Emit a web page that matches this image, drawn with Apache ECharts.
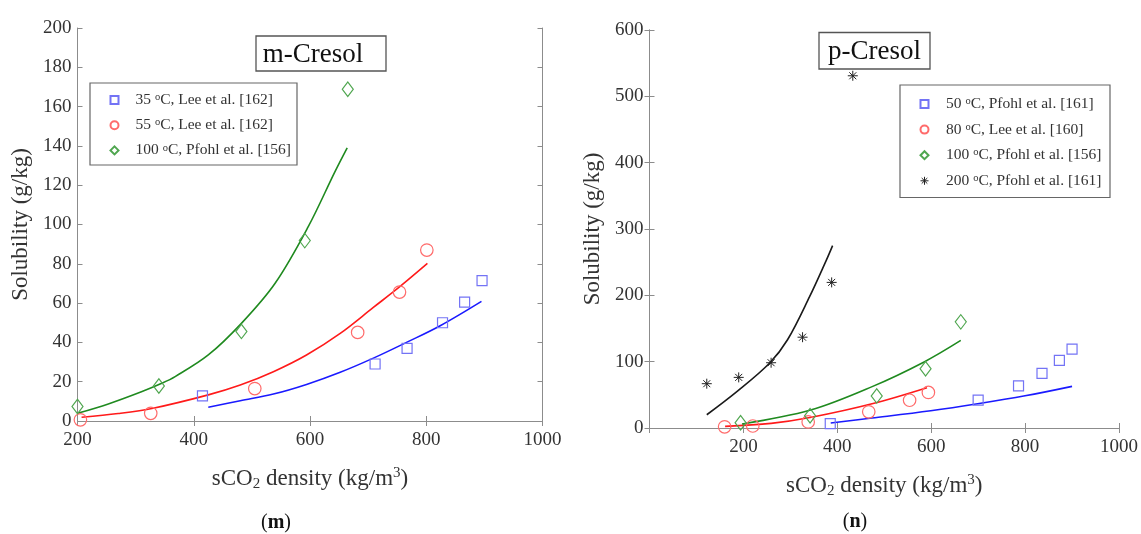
<!DOCTYPE html>
<html>
<head>
<meta charset="utf-8">
<script src="https://cdn.jsdelivr.net/npm/echarts@6/dist/echarts.min.js"></script>
<style>
  html, body { margin: 0; padding: 0; background: #fff; }
  #chart { width: 1141px; height: 534px; }
</style>
</head>
<body>
<div id="chart"></div>
<script>
// ---- m-Cresol: measured solubility (g/kg) vs sCO2 density (kg/m3) ----
const mDensity35 = [415, 712, 767, 828, 866, 896];
const mSol35 = [12.8, 29, 37, 50, 60.5, 71.4];
const mDensity55 = [205, 326, 505, 682, 754, 801];
const mSol55 = [0.6, 3.9, 16.5, 45.1, 65.6, 87];
const mDensity100 = [200, 340, 482, 591, 665];
const mSol100 = [7.4, 17.8, 45.6, 91.8, 168.8];

// m-Cresol correlation curves
const mFitX35 = [425, 480, 537, 594, 652, 709, 766, 824, 895];
const mFitY35 = [7.0, 10.3, 13.7, 18.6, 24.8, 32.0, 40.0, 48.5, 60.9];
const mFitX55 = [207, 270, 330, 425, 480, 537, 594, 652, 709, 755, 802];
const mFitY55 = [1.9, 3.8, 6.5, 13.3, 18.3, 25.1, 33.6, 44.6, 57.8, 68.5, 80.2];
const mFitX100 = [200, 253, 310, 345, 368, 425, 482, 540, 597, 643, 664];
const mFitY100 = [3.9, 8.7, 14.9, 19.2, 22.6, 33.6, 49.7, 70.1, 98.9, 126.9, 139];

// ---- p-Cresol: measured solubility ----
const pDensity50 = [385, 700, 786, 836, 873, 900];
const pSol50 = [6.5, 42, 63.5, 82.3, 102, 119];
const pDensity80 = [160, 220, 338, 467, 554, 594];
const pSol80 = [1.8, 3, 9.2, 24.4, 41.8, 53.6];
const pDensity100 = [194, 342, 484, 588, 663];
const pSol100 = [7.9, 18.4, 48.4, 89.4, 160];
const pDensity200 = [122, 190, 259, 326, 388, 433];
const pSol200 = [66.8, 76.3, 98.4, 136.9, 219.5, 531];

// p-Cresol correlation curves
const pFitX50 = [386, 474, 599, 699, 800, 900];
const pFitY50 = [7.6, 15, 26, 36.5, 48.5, 62.8];
const pFitX80 = [161, 259, 345, 474, 591];
const pFitY80 = [2.5, 7, 16.2, 36.5, 60.8];
const pFitX100 = [197, 343, 473, 586, 663];
const pFitY100 = [6, 27, 62, 100, 132];
const pFitX200 = [122, 188, 256, 294, 341, 376, 390];
const pFitY200 = [20, 56, 98, 133, 198, 252, 275];

// axis ticks
const mXTicks = { min: 200, max: 1000, interval: 200 };
const mYTicks = { min: 0, max: 200, interval: 20 };
const pXTicks = { min: 0, max: 1000, interval: 200 };
const pYTicks = { min: 0, max: 600, interval: 100 };

// legend labels
const mNames = ['35 °C, Lee et al. [162]', '55 °C, Lee et al. [162]', '100 °C, Pfohl et al. [156]'];
const pNames = ['50 °C, Pfohl et al. [161]', '80 °C, Lee et al. [160]', '100 °C, Pfohl et al. [156]', '200 °C, Pfohl et al. [161]'];

const FONT = 'Liberation Serif';
const TXT = '#333';
const FRAME = '#8c8c8c';
const BLUE_M = '#7373f5', RED_M = '#ff6b6b', GREEN_M = '#4fa64f', BLACK_M = '#222';
const BLUE_L = '#1a1aff', RED_L = '#ff1a1a', GREEN_L = '#1f8a1f', BLACK_L = '#1a1a1a';
const STAR = 'path://M5,0L5,10M0,5L10,5M1.5,1.5L8.5,8.5M1.5,8.5L8.5,1.5';

const zip = (xs, ys) => xs.map((x, i) => [x, ys[i]]);

const axisNameRich = {
  sub: { fontFamily: FONT, fontSize: 15, color: TXT, verticalAlign: 'bottom', lineHeight: 15 },
  sup: { fontFamily: FONT, fontSize: 15, color: TXT, verticalAlign: 'top', lineHeight: 15 }
};

function xAxisPair(grid, ticks, hideZero) {
  const common = {
    type: 'value', gridIndex: grid, min: ticks.min, max: ticks.max, interval: ticks.interval,
    axisLine: { show: true, lineStyle: { color: FRAME, width: 1 } },
    axisTick: { show: true, inside: true, length: 5, lineStyle: { color: FRAME } },
    splitLine: { show: false }
  };
  return [
    Object.assign({}, common, {
      position: 'bottom',
      axisLabel: {
        margin: 10, fontFamily: FONT, fontSize: 19, color: TXT,
        formatter: v => (hideZero && v === 0) ? '' : String(v)
      },
      name: 'sCO{sub|2} density (kg/m{sup|3})',
      nameLocation: 'middle', nameGap: 45,
      nameTextStyle: { fontFamily: FONT, fontSize: 23, color: TXT, lineHeight: 26, rich: axisNameRich }
    }),
    Object.assign({}, common, { position: 'top', axisLabel: { show: false } })
  ];
}

function yAxisPair(grid, ticks) {
  const common = {
    type: 'value', gridIndex: grid, min: ticks.min, max: ticks.max, interval: ticks.interval,
    axisLine: { show: true, lineStyle: { color: FRAME, width: 1 } },
    axisTick: { show: true, inside: true, length: 5, lineStyle: { color: FRAME } },
    splitLine: { show: false }
  };
  return [
    Object.assign({}, common, {
      position: 'left',
      axisLabel: { margin: 6, fontFamily: FONT, fontSize: 19, color: TXT },
      name: 'Solubility (g/kg)', nameLocation: 'middle', nameGap: 45,
      nameTextStyle: { fontFamily: FONT, fontSize: 23, color: TXT }
    }),
    Object.assign({}, common, { position: 'right', axisLabel: { show: false } })
  ];
}

function scatter(name, xi, yi, xs, ys, symbol, size, color, width) {
  return {
    type: 'scatter', name, xAxisIndex: xi, yAxisIndex: yi, data: zip(xs, ys),
    symbol, symbolSize: size, clip: false, z: 3,
    itemStyle: { color: 'transparent', borderColor: color, borderWidth: width || 1.2, opacity: 1 }
  };
}

function fit(name, xi, yi, xs, ys, color) {
  return {
    type: 'line', name, xAxisIndex: xi, yAxisIndex: yi, data: zip(xs, ys),
    showSymbol: false, smooth: 0.35, silent: true, z: 2,
    lineStyle: { color, width: 1.6 }, itemStyle: { color }
  };
}

function legendText(gap) {
  return {
    fontFamily: FONT, fontSize: 15.5, color: TXT, lineHeight: 16, padding: [0, 0, 0, gap],
    rich: { sup: { fontFamily: FONT, fontSize: 10.5, color: TXT, verticalAlign: 'top', lineHeight: 10 } }
  };
}
const legendFormatter = n => n.replace(' °C', ' {sup|o}C');

// legend entry for the 200 °C asterisk marker, drawn as an outlined star
const starEntry = {
  name: pNames[3], icon: STAR,
  itemStyle: { color: 'transparent', borderColor: BLACK_M, borderWidth: 1 }
};

const chart = echarts.init(document.getElementById('chart'), null, { renderer: 'canvas' });
chart.setOption({
  animation: false,
  backgroundColor: '#fff',
  grid: [
    { left: 77.5, top: 28, width: 465, height: 393 },
    { left: 649.5, top: 30, width: 470.5, height: 398 }
  ],
  xAxis: [...xAxisPair(0, mXTicks, false), ...xAxisPair(1, pXTicks, true)],
  yAxis: [...yAxisPair(0, mYTicks), ...yAxisPair(1, pYTicks)],
  legend: [
    {
      data: mNames, orient: 'vertical', left: 109.5, top: 92, padding: 0,
      itemWidth: 8, itemHeight: 8, itemGap: 9.2, selectedMode: false,
      textStyle: legendText(12), formatter: legendFormatter
    },
    {
      data: [pNames[0], pNames[1], pNames[2], starEntry], orient: 'vertical', left: 919.5, top: 96, padding: 0,
      itemWidth: 8, itemHeight: 8, itemGap: 9.6, selectedMode: false,
      textStyle: legendText(12.5), formatter: legendFormatter
    }
  ],
  graphic: [
    // legend frames
    { type: 'rect', z: 0, shape: { x: 90, y: 83, width: 207, height: 82 },
      style: { fill: '#fff', stroke: '#666', lineWidth: 1.2 } },
    { type: 'rect', z: 0, shape: { x: 900, y: 85, width: 210, height: 112.5 },
      style: { fill: '#fff', stroke: '#666', lineWidth: 1.2 } },
    // compound labels
    { type: 'rect', z: 5, shape: { x: 256, y: 36, width: 130, height: 35 },
      style: { fill: '#fff', stroke: '#555', lineWidth: 1.3 } },
    { type: 'text', z: 6, style: { x: 313, y: 55, text: 'm-Cresol', font: '27px "Liberation Serif"',
      fill: '#111', align: 'center', verticalAlign: 'middle' } },
    { type: 'rect', z: 5, shape: { x: 819, y: 32.5, width: 111, height: 36.5 },
      style: { fill: '#fff', stroke: '#555', lineWidth: 1.3 } },
    { type: 'text', z: 6, style: { x: 874.5, y: 52, text: 'p-Cresol', font: '27px "Liberation Serif"',
      fill: '#111', align: 'center', verticalAlign: 'middle' } },
    // panel captions
    { type: 'text', style: { x: 276, y: 523, text: '({b|m})', font: '20px "Liberation Serif"', fill: '#111',
      align: 'center', verticalAlign: 'middle',
      rich: { b: { fontFamily: FONT, fontSize: 20, fontWeight: 'bold', fill: '#111' } } } },
    { type: 'text', style: { x: 855, y: 522, text: '({b|n})', font: '20px "Liberation Serif"', fill: '#111',
      align: 'center', verticalAlign: 'middle',
      rich: { b: { fontFamily: FONT, fontSize: 20, fontWeight: 'bold', fill: '#111' } } } }
  ],
  series: [
    fit('m-fit-35', 0, 0, mFitX35, mFitY35, BLUE_L),
    fit('m-fit-55', 0, 0, mFitX55, mFitY55, RED_L),
    fit('m-fit-100', 0, 0, mFitX100, mFitY100, GREEN_L),
    scatter(mNames[0], 0, 0, mDensity35, mSol35, 'rect', 10, BLUE_M),
    scatter(mNames[1], 0, 0, mDensity55, mSol55, 'circle', 12.5, RED_M),
    scatter(mNames[2], 0, 0, mDensity100, mSol100, 'diamond', [11, 14.5], GREEN_M),

    fit('p-fit-50', 2, 2, pFitX50, pFitY50, BLUE_L),
    fit('p-fit-80', 2, 2, pFitX80, pFitY80, RED_L),
    fit('p-fit-100', 2, 2, pFitX100, pFitY100, GREEN_L),
    fit('p-fit-200', 2, 2, pFitX200, pFitY200, BLACK_L),
    scatter(pNames[0], 2, 2, pDensity50, pSol50, 'rect', 10, BLUE_M),
    scatter(pNames[1], 2, 2, pDensity80, pSol80, 'circle', 12.5, RED_M),
    scatter(pNames[2], 2, 2, pDensity100, pSol100, 'diamond', [11, 14.5], GREEN_M),
    scatter(pNames[3], 2, 2, pDensity200, pSol200, STAR, 10, BLACK_M, 1)
  ]
});
</script>
</body>
</html>
